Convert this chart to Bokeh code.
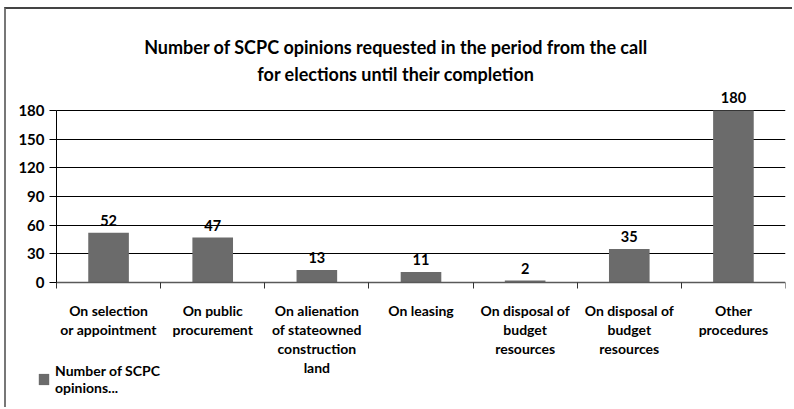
from bokeh.plotting import figure
from bokeh.models import FixedTicker, Range1d, Legend, LegendItem, ColumnDataSource, Title
from bokeh.core.properties import value
from bokeh.embed import file_html
from bokeh.resources import INLINE

categories = [
    "On selection\nor appointment",
    "On public\nprocurement",
    "On alienation\nof stateowned\nconstruction\nland",
    "On leasing",
    "On disposal of\nbudget\nresources",
    "On disposal of\nbudget\nresources",
    "Other\nprocedures",
]
counts = [52, 47, 13, 11, 2, 35, 180]
y_ticks = [0, 30, 60, 90, 120, 150, 180]
series_name = "Number of SCPC\nopinions..."
title_lines = ["Number of SCPC opinions requested in the period from the call",
               "for elections until their completion"]

FONT = "Lato"
BAR = "#6b6b6b"
n = len(categories)

xs = [i + 0.5 for i in range(n)]
src = ColumnDataSource(dict(x=xs, top=counts, label=[str(v) for v in counts]))

p = figure(width=788, height=400, output_backend="svg", toolbar_location=None,
           x_range=Range1d(-0.48, n), y_range=Range1d(-132.9, 205.1),
           min_border_left=0, min_border_right=9, min_border_top=77,
           min_border_bottom=0)
p.outline_line_color = None
p.styles = {"margin-left": "4px", "margin-top": "7px",
            "border-top": "2px solid #444444", "border-left": "2px solid #777777"}

# title: two centred lines (added from the frame outwards)
for line in reversed(title_lines):
    t = Title(text=line, align="center", text_font=FONT,
              text_font_size="18px", text_font_style="bold",
              text_color="#000000", standoff=3)
    p.add_layout(t, "above")

r = p.vbar(x="x", top="top", bottom=0, width=0.39, source=src,
           fill_color=BAR, line_color=None)
p.text(x="x", y="top", text="label", source=src, y_offset=-7,
       text_align="center", text_baseline="bottom", text_font=value(FONT),
       text_font_style="bold", text_font_size="14.5px", text_color="#000000")

# y axis (drawn at x = 0)
p.yaxis.fixed_location = 0
p.yaxis.ticker = FixedTicker(ticks=y_ticks)
p.yaxis.bounds = (0, y_ticks[-1])
p.yaxis.major_tick_out = 7
p.yaxis.major_tick_in = 0
p.yaxis.minor_tick_line_color = None
p.yaxis.major_label_standoff = 5
p.yaxis.major_label_text_font = FONT
p.yaxis.major_label_text_font_style = "bold"
p.yaxis.major_label_text_font_size = "15px"
p.yaxis.major_label_text_color = "#000000"
p.yaxis.axis_line_color = "#000000"
p.yaxis.major_tick_line_color = "#000000"

grid = p.ygrid[0]
grid.ticker = FixedTicker(ticks=y_ticks[1:])
grid.grid_line_color = "#000000"
grid.grid_line_width = 1
if "cross_bounds" in grid.properties():
    grid.cross_bounds = (0, n)
else:
    grid.visible = False
    p.segment(x0=0, x1=n, y0=y_ticks[1:], y1=y_ticks[1:], line_color="#000000",
              line_width=1)
p.xgrid.visible = False

# x axis (drawn at y = 0): labels at category centres, ticks at boundaries
p.xaxis.fixed_location = 0
p.xaxis.bounds = (0, n)
p.xaxis.ticker = FixedTicker(ticks=xs, minor_ticks=list(range(n + 1)))
p.xaxis.major_label_overrides = {x: c for x, c in zip(xs, categories)}
p.xaxis.major_tick_out = 0
p.xaxis.major_tick_in = 0
p.xaxis.minor_tick_out = 6
p.xaxis.minor_tick_in = 0
p.xaxis.minor_tick_line_color = "#333333"
p.xaxis.axis_line_color = "#595959"
p.xaxis.axis_line_width = 1.5
p.xaxis.major_label_standoff = 14
p.xaxis.major_label_text_font = FONT
p.xaxis.major_label_text_font_style = "bold"
p.xaxis.major_label_text_font_size = "14px"
p.xaxis.major_label_text_line_height = 1.1
p.xaxis.major_label_text_color = "#000000"

legend = Legend(items=[LegendItem(label=series_name, renderers=[r])],
                location=(31, 13))
legend.border_line_color = None
legend.background_fill_alpha = 0
legend.padding = 0
legend.margin = 0
legend.glyph_width = 13
legend.glyph_height = 14
legend.label_standoff = 5
legend.label_text_font = FONT
legend.label_text_font_style = "bold"
legend.label_text_font_size = "14px"
legend.label_text_line_height = 1.3
legend.label_text_color = "#000000"
p.add_layout(legend, "center")

open("out.html", "w").write(file_html(p, INLINE))
